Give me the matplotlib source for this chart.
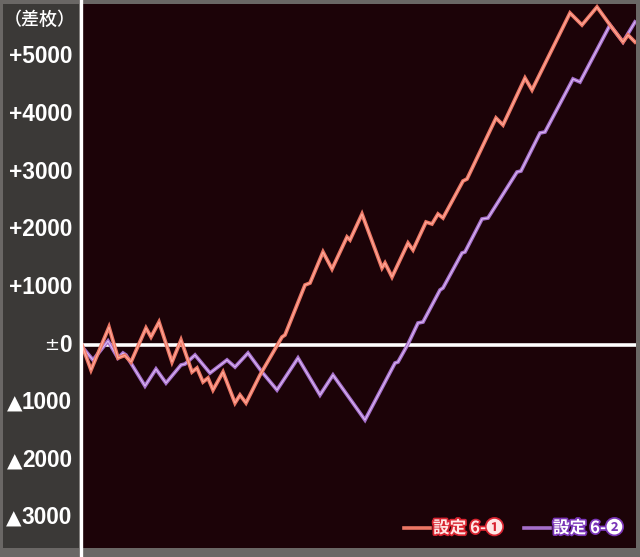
import matplotlib
matplotlib.use('Agg')
import matplotlib.pyplot as plt
from matplotlib import patheffects as pe
from matplotlib.transforms import blended_transform_factory
from matplotlib.patches import Rectangle
from matplotlib.lines import Line2D
from matplotlib.text import Annotation

# ---------------- data ----------------
games_1 = [0, 126, 378, 504, 600, 686, 896, 966, 1078, 1260, 1386, 1540, 1610,
           1694, 1764, 1834, 1974, 2142, 2212, 2296, 2492, 2800, 2842, 3122,
           3192, 3374, 3500, 3710, 3752, 3920, 4200, 4242, 4340, 4564, 4634,
           4816, 4900, 4984, 5054, 5334, 5390, 5796, 5894, 6202, 6300, 6832,
           7000, 7210, 7392, 7574, 7644, 7742]
diff_1 = [0, -434, 312, -226, -180, -295, 295, 139, 399, -295, 87, -469, -399,
          -642, -573, -781, -469, -1007, -868, -1007, -521, 139, 174, 1042,
          1076, 1615, 1319, 1875, 1823, 2274, 1337, 1424, 1181, 1771, 1649,
          2135, 2101, 2274, 2205, 2847, 2882, 3941, 3819, 4635, 4427, 5764,
          5556, 5868, 5556, 5260, 5382, 5260]

games_2 = [0, 154, 364, 504, 574, 616, 882, 1036, 1176, 1386, 1442, 1582,
           1792, 2030, 2142, 2324, 2520, 2730, 3024, 3332, 3514, 3962, 4382,
           4424, 4564, 4704, 4774, 5012, 5054, 5320, 5362, 5600, 5684, 6090,
           6146, 6412, 6482, 6874, 6972, 7392, 7574, 7742]
diff_2 = [-30, -260, 69, -226, -139, -174, -712, -417, -660, -347, -330, -174,
          -486, -260, -382, -139, -469, -781, -226, -868, -521, -1302, -313,
          -295, 17, 382, 399, 955, 990, 1597, 1615, 2188, 2205, 3003, 3021,
          3681, 3698, 4618, 4566, 5556, 5260, 5608]

series_names = ["設定 6-❶", "設定 6-❷"]
tick_values = [5000, 4000, 3000, 2000, 1000, 0, -1000, -2000, -3000]
tick_labels = ["+5000", "+4000", "+3000", "+2000", "+1000", "±0",
               "▲1000", "▲2000", "▲3000"]
y_title = "（差枚）"

# ---------------- styling ----------------
W, H = 640, 557
frame_gray = '#6a6765'
panel_gray = '#3b3937'
plot_bg = '#1c0308'
c1_edge, c1_core = '#ec7765', '#ffab9c'
c2_edge, c2_core = '#a56fca', '#dcbaf4'

fig = plt.figure(figsize=(6.4, 5.57), dpi=100, facecolor=frame_gray)

# left label panel
fig.patches.append(Rectangle((3 / W, 9 / H), 76 / W, 544 / H,
                             transform=fig.transFigure, facecolor=panel_gray,
                             edgecolor='none', zorder=-1))

ax = fig.add_axes([82 / W, 9 / H, 554 / W, 544 / H])
ax.set_facecolor(plot_bg)
ax.set_xlim(0, 7756)
ax.set_ylim(-3524, 5920)
ax.set_xticks([])
ax.set_yticks([])
for s in ax.spines.values():
    s.set_visible(False)

# zero line
ax.axhline(0, color='white', lw=2.6, zorder=2)

# series lines (glow style: darker edge + lighter core)
ax.plot(games_2, diff_2, color=c2_edge, lw=2.7, solid_joinstyle='miter', zorder=3)
ax.plot(games_2, diff_2, color=c2_core, lw=0.8, solid_joinstyle='miter', zorder=3)
ax.plot(games_1, diff_1, color=c1_edge, lw=2.7, solid_joinstyle='miter', zorder=4)
ax.plot(games_1, diff_1, color=c1_core, lw=0.8, solid_joinstyle='miter', zorder=4)

# white vertical axis line
fig.add_artist(Line2D([80.5 / W, 80.5 / W], [0, 1], transform=fig.transFigure,
                      color='white', lw=2.4, zorder=5))

# y tick labels drawn in left panel
trans = blended_transform_factory(fig.transFigure, ax.transData)
for v, lab in zip(tick_values, tick_labels):
    prefix, num = lab[0], lab[1:]
    if prefix == '+':
        fig.text(72 / W, v, lab, transform=trans, ha='right', va='center',
                 color='white', fontsize=16.3, fontweight='bold',
                 family=['Liberation Sans', 'DejaVu Sans'], zorder=6)
    else:
        t = fig.text(72 / W, v, num, transform=trans, ha='right', va='center',
                     color='white', fontsize=16.3, fontweight='bold',
                     family=['Liberation Sans', 'DejaVu Sans'], zorder=6)
        is_tri = prefix == '▲'
        a = Annotation(prefix, xy=(0, 0.44 if is_tri else 0.5), xycoords=t,
                       xytext=(0 if is_tri else -0.5, 0),
                       textcoords='offset points', ha='right', va='center',
                       color='white', fontsize=14.5 if is_tri else 13,
                       fontweight='normal',
                       family=['DejaVu Sans'], annotation_clip=False)
        a.set_zorder(6)
        fig.add_artist(a)

fig.text(40 / W, 1 - 20 / H, y_title, ha='center', va='center', color='white',
         fontsize=13, fontweight='medium',
         family=['Noto Sans CJK JP', 'DejaVu Sans'], zorder=6)

# legend
leg = [(404, 430, 433, series_names[0], c1_edge, '#d8232f', '#ffe6e4'),
       (524, 550, 553, series_names[1], c2_edge, '#7a35b8', '#ffffff')]
for x0, x1, xt, name, lc, stroke, fill in leg:
    fig.add_artist(Line2D([x0 / W, x1 / W], [1 - 528 / H, 1 - 528 / H],
                          transform=fig.transFigure, color=lc, lw=2.6, zorder=6))
    fig.text(xt / W, 1 - 528 / H, name, ha='left', va='center', color=fill,
             fontsize=12, fontweight='bold', zorder=7,
             family=['Noto Sans CJK JP', 'DejaVu Sans'],
             path_effects=[pe.withStroke(linewidth=2.5, foreground=stroke)])

fig.savefig('out.png', dpi=100, facecolor=fig.get_facecolor())
